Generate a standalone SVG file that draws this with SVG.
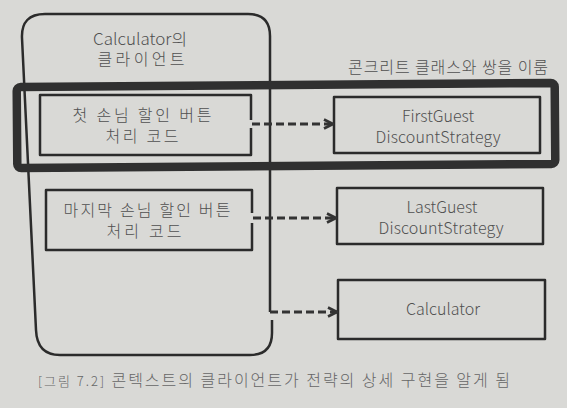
<svg xmlns="http://www.w3.org/2000/svg" width="567" height="408" viewBox="0 0 567 408">
  <style>
    .bg { fill: #d9d9d6; }
    .line { fill: none; stroke: #2b2b2b; stroke-width: 2.5; stroke-linejoin: round; }
    .thick { fill: none; stroke: #303030; stroke-width: 8.5; }
    .dash { fill: none; stroke: #333; stroke-width: 3; stroke-dasharray: 8 4; }
    .t { font-family: "Noto Sans CJK KR", "Open Sans", sans-serif; font-weight: 300; fill: #505050; text-anchor: middle; }
    .k { font-size: 16px; }
    .e { font-size: 16px; }
    .cap { font-family: "Noto Sans CJK KR", sans-serif; font-weight: 300; fill: #666; font-size: 16px; }
  </style>
  <defs>
    <marker id="arr" viewBox="0 0 12 12" refX="11" refY="6" markerWidth="12" markerHeight="12" markerUnits="userSpaceOnUse" orient="auto">
      <path d="M2,1.5 L11,6 L2,10.5" fill="none" stroke="#333" stroke-width="2.6" stroke-linejoin="round"/>
    </marker>
  </defs>
  <rect class="bg" x="0" y="0" width="567" height="408"/>

  <g id="client">
    <path class="line" d="M270,312 V36 Q270,14 248,14 H45 Q21,14 22,38 L36,330 Q37,355 60,355 H250 Q272,355 272,333 V320"/>
    <text class="t k" x="140" y="45" textLength="94" lengthAdjust="spacingAndGlyphs">Calculator의</text>
    <text class="t k" x="141" y="65" textLength="87">클라이언트</text>
  </g>

  <g id="pair">
    <rect class="thick" x="17" y="85" width="538" height="81" rx="4" transform="rotate(-0.45 286 125)"/>
    <text class="t" x="448" y="73" font-size="16" textLength="200">콘크리트 클래스와 쌍을 이룸</text>
  </g>

  <g id="first-code">
    <path class="line" d="M251,120 V95 H40 V155 H251 V128"/>
    <text class="t k" x="142" y="121" textLength="139">첫 손님 할인 버튼</text>
    <text class="t k" x="142" y="142" textLength="73">처리 코드</text>
  </g>

  <g id="last-code">
    <path class="line" d="M252,213 V190 H46 V250 H252 V223"/>
    <text class="t k" x="147" y="215.5" textLength="167">마지막 손님 할인 버튼</text>
    <text class="t k" x="144" y="236.5" textLength="75">처리 코드</text>
  </g>

  <g id="first-strategy">
    <rect class="line" x="334" y="97" width="206" height="56"/>
    <text class="t e" x="438" y="121.5">FirstGuest</text>
    <text class="t e" x="438" y="142.5" textLength="125">DiscountStrategy</text>
  </g>

  <g id="last-strategy">
    <rect class="line" x="337" y="188" width="206" height="56"/>
    <text class="t e" x="442" y="212.5">LastGuest</text>
    <text class="t e" x="441" y="233.5" textLength="125">DiscountStrategy</text>
  </g>

  <g id="calculator">
    <rect class="line" x="338" y="280" width="207" height="59"/>
    <text class="t e" x="443" y="315" textLength="74">Calculator</text>
  </g>

  <g id="connectors">
    <path class="dash" d="M252,124 H333" marker-end="url(#arr)"/>
    <path class="dash" d="M253,218 H336" marker-end="url(#arr)"/>
    <path class="dash" d="M270,312 H337" marker-end="url(#arr)"/>
  </g>

  <text class="cap" x="38" y="386" textLength="472"><tspan font-size="13">[그림 7.2]</tspan> 콘텍스트의 클라이언트가 전략의 상세 구현을 알게 됨</text>
</svg>
